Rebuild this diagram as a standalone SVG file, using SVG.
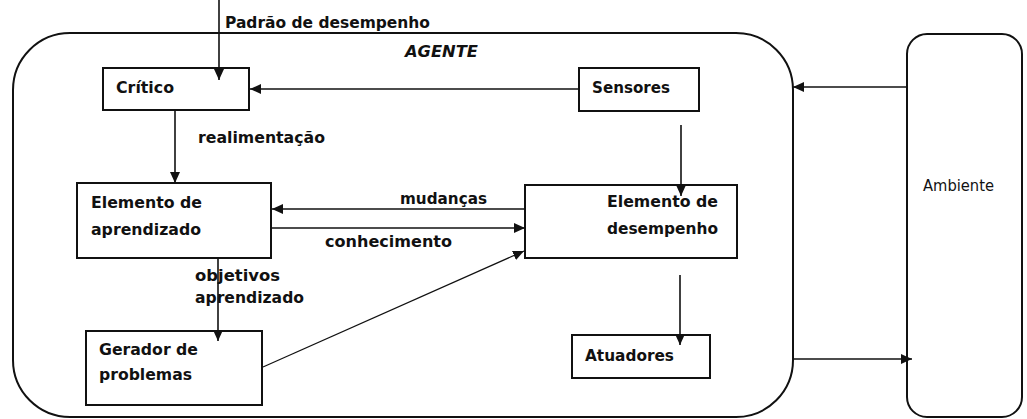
<svg xmlns="http://www.w3.org/2000/svg" width="1027" height="419" viewBox="0 0 1027 419">
<defs>
<style>
.box{fill:#fff;stroke:#111;stroke-width:2}
.frame{fill:none;stroke:#111;stroke-width:2}
.t{font-family:"DejaVu Sans",sans-serif;font-size:16.5px;font-weight:bold;fill:#111}
.r{font-family:"DejaVu Sans",sans-serif;font-size:16.5px;fill:#111}
.it{font-family:"DejaVu Sans",sans-serif;font-size:16.5px;font-weight:bold;font-style:italic;fill:#111}
.c{stroke:#111;stroke-width:1.6;fill:none;marker-end:url(#ah)}
</style>
<marker id="ah" markerUnits="userSpaceOnUse" markerWidth="12" markerHeight="10" refX="11" refY="5" orient="auto">
<path d="M0,0 L11,5 L0,10 z" fill="#111"/>
</marker>
</defs>
<rect width="1027" height="419" fill="#fff"/>
<g id="agente">
<rect class="frame" x="13" y="33" width="780" height="384" rx="57" ry="57"/>
<text class="it" x="405" y="57" textLength="73" lengthAdjust="spacingAndGlyphs">AGENTE</text>
</g>
<g id="ambiente">
<rect class="frame" x="907" y="34" width="115" height="383" rx="20" ry="20"/>
<text class="r" x="923" y="191" textLength="71" lengthAdjust="spacingAndGlyphs">Ambiente</text>
</g>
<g id="critico">
<rect class="box" x="103" y="68" width="146" height="42"/>
<text class="t" x="116" y="93" textLength="58" lengthAdjust="spacingAndGlyphs">Crítico</text>
</g>
<g id="sensores">
<rect class="box" x="579" y="68" width="120" height="43"/>
<text class="t" x="592" y="93" textLength="78" lengthAdjust="spacingAndGlyphs">Sensores</text>
</g>
<g id="aprendizado">
<rect class="box" x="77" y="183" width="194" height="75"/>
<text class="t" x="91" y="208" textLength="111" lengthAdjust="spacingAndGlyphs">Elemento de</text>
<text class="t" x="91" y="235" textLength="110" lengthAdjust="spacingAndGlyphs">aprendizado</text>
</g>
<g id="desempenho">
<rect class="box" x="525" y="185" width="212" height="73"/>
<text class="t" x="607" y="207" textLength="111" lengthAdjust="spacingAndGlyphs">Elemento de</text>
<text class="t" x="607" y="234" textLength="111" lengthAdjust="spacingAndGlyphs">desempenho</text>
</g>
<g id="gerador">
<rect class="box" x="86" y="331" width="176" height="74"/>
<text class="t" x="99" y="355" textLength="99" lengthAdjust="spacingAndGlyphs">Gerador de</text>
<text class="t" x="99" y="380" textLength="93" lengthAdjust="spacingAndGlyphs">problemas</text>
</g>
<g id="atuadores">
<rect class="box" x="572" y="335" width="138" height="43"/>
<text class="t" x="585" y="361" textLength="89" lengthAdjust="spacingAndGlyphs">Atuadores</text>
</g>
<g id="connectors">
<line class="c" x1="219" y1="0" x2="219" y2="80"/>
<line class="c" x1="579" y1="89" x2="250" y2="89"/>
<line class="c" x1="907" y1="87" x2="793" y2="87"/>
<line class="c" x1="175" y1="110" x2="175" y2="183"/>
<line class="c" x1="681" y1="125" x2="681" y2="196"/>
<line class="c" x1="525" y1="209" x2="272" y2="209"/>
<line class="c" x1="272" y1="228" x2="525" y2="228"/>
<line class="c" x1="218" y1="258" x2="218" y2="341"/>
<line class="c" x1="263" y1="367" x2="524" y2="251" style="stroke-width:1.2"/>
<line class="c" x1="680" y1="275" x2="680" y2="345"/>
<line class="c" x1="793" y1="359" x2="912" y2="359"/>
</g>
<g id="labels">
<text class="t" x="225" y="28" textLength="205" lengthAdjust="spacingAndGlyphs">Padrão de desempenho</text>
<text class="t" x="198" y="143" textLength="127" lengthAdjust="spacingAndGlyphs">realimentação</text>
<text class="t" x="400" y="204" textLength="87" lengthAdjust="spacingAndGlyphs">mudanças</text>
<text class="t" x="325" y="247" textLength="127" lengthAdjust="spacingAndGlyphs">conhecimento</text>
<text class="t" x="195" y="281" textLength="85" lengthAdjust="spacingAndGlyphs">objetivos</text>
<text class="t" x="195" y="303" textLength="109" lengthAdjust="spacingAndGlyphs">aprendizado</text>
</g>
</svg>
